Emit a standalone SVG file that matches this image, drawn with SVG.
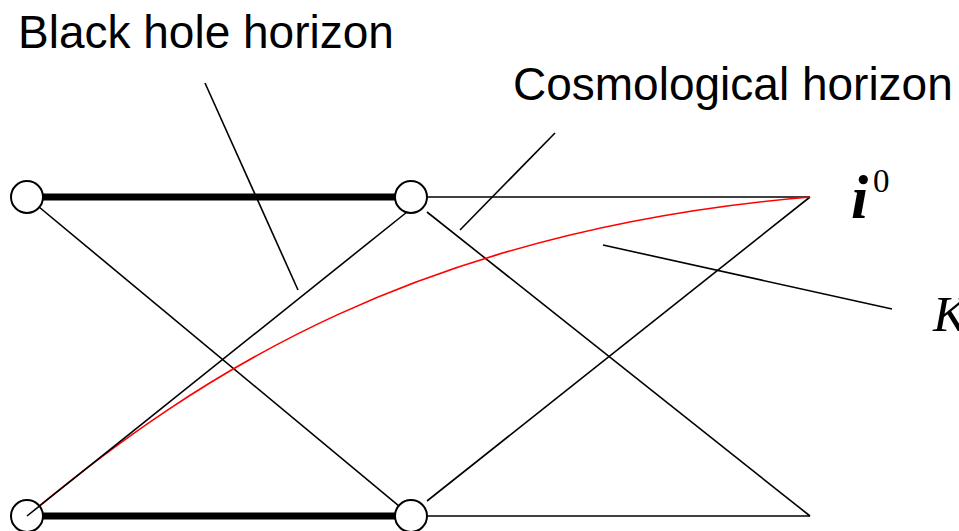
<svg xmlns="http://www.w3.org/2000/svg" width="959" height="531" viewBox="0 0 959 531">
<style>
.l{stroke:#000;stroke-width:1.6;fill:none}
.thick{stroke:#000;stroke-width:7;fill:none}
.n{fill:#fff;stroke:#000;stroke-width:2}
.lab{font-family:"Liberation Sans",Arial,sans-serif;font-size:46px;fill:#000}
.m{font-family:"Liberation Serif","Times New Roman",serif;fill:#000}
</style>
<rect width="959" height="531" fill="#fff"/>
<g id="connectors">
<line class="thick" x1="27" y1="197" x2="411" y2="197"/>
<line class="thick" x1="27" y1="516" x2="411" y2="516"/>
<line class="l" x1="411" y1="197" x2="810" y2="197"/>
<line class="l" x1="411" y1="516" x2="810" y2="516"/>
<line class="l" x1="27" y1="197" x2="411" y2="516"/>
<line class="l" x1="427" y1="212" x2="810" y2="516"/>
<line class="l" x1="427" y1="501" x2="810" y2="197"/>
<path d="M27,516 C200,372 420,230 810,197" stroke="#f00" stroke-width="1.6" fill="none"/>
<line class="l" x1="205" y1="83" x2="298" y2="290"/>
<line class="l" x1="555" y1="133" x2="460" y2="230"/>
<line class="l" x1="603" y1="245" x2="892" y2="309"/>
</g>
<g id="n1"><circle class="n" cx="27" cy="197" r="16"/></g>
<g id="n2"><circle class="n" cx="411" cy="197" r="16"/></g>
<g id="n3"><circle class="n" cx="27" cy="516" r="16"/></g>
<g id="n4"><circle class="n" cx="411" cy="516" r="16"/></g>
<line class="l" x1="27" y1="516" x2="407" y2="212"/>
<g id="labels">
<text class="m" x="851" y="218" font-size="62" font-weight="bold" font-style="italic">i</text>
<text class="m" x="873" y="192" font-size="33">0</text>
<text class="lab" x="18" y="48">Black hole horizon</text>
<text class="lab" x="513" y="100">Cosmological horizon</text>
<text class="m" x="933" y="331" font-size="51" font-style="italic">K</text>
</g>
</svg>
